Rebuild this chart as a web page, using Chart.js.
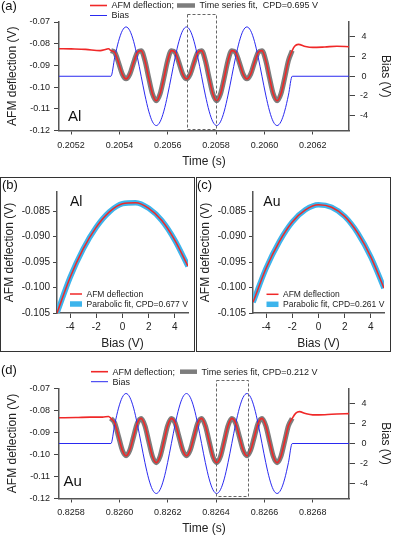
<!DOCTYPE html>
<html>
<head>
<meta charset="utf-8">
<script src="https://cdn.jsdelivr.net/npm/chart.js@4.4.1/dist/chart.umd.min.js"></script>
<style>
  html, body { margin: 0; padding: 0; background: #fff; }
  #page { position: relative; width: 393px; height: 536px; overflow: hidden; }
  canvas, .box { position: absolute; }
  .box { border: 1px solid #333; box-sizing: border-box; }
</style>
</head>
<body>
<div id="page">
  <div class="box" style="left:0;top:177px;width:195px;height:175px"></div>
  <div class="box" style="left:196px;top:177px;width:195px;height:175px"></div>
  <canvas id="chartA" width="393" height="177" style="left:0;top:0"></canvas>
  <canvas id="chartB" width="195" height="175" style="left:0;top:177px"></canvas>
  <canvas id="chartC" width="195" height="175" style="left:196px;top:177px"></canvas>
  <canvas id="chartD" width="393" height="180" style="left:0;top:356px"></canvas>
</div>
<script>
const FONT = "'Liberation Sans', Arial, sans-serif";
Chart.defaults.font.family = FONT;
Chart.defaults.color = '#222';

const RED = '#f02828';
const BLUE = '#2a2af0';
const GRAY = '#7d7d7d';
const LIGHTBLUE = '#3cb4ec';

// tick labels
const timeTicksA = [0.2052, 0.2054, 0.2056, 0.2058, 0.2060, 0.2062];
const timeTicksD = [0.8258, 0.8260, 0.8262, 0.8264, 0.8266, 0.8268];
const deflTicks = [-0.07, -0.08, -0.09, -0.10, -0.11, -0.12];
const biasTicks = [-4, -2, 0, 2, 4];
const parabDeflTicks = [-0.085, -0.090, -0.095, -0.100, -0.105];

// bias during the excitation burst (same burst in (a) and (d))
const biasWave = [
  0, 1.91, 3.54, 4.62, 5, 4.62, 3.54, 1.91, 0, -1.91, -3.54, -4.62, -5, -4.62, -3.54, -1.91,
  0, 1.91, 3.54, 4.62, 5, 4.62, 3.54, 1.91, 0, -1.91, -3.54, -4.62, -5, -4.62, -3.54, -1.91,
  0, 1.91, 3.54, 4.62, 5, 4.62, 3.54, 1.91, 0, -1.91, -3.54, -4.62, -5, -4.62, -3.54, -1.91, 0
];

// (a) Al
const timeRangeA = [0.20515, 0.20635];
const waveTimeA = [
  0.2053650, 0.2053806, 0.2053963, 0.2054119, 0.2054275, 0.2054431, 0.2054588, 0.2054744,
  0.2054900, 0.2055056, 0.2055213, 0.2055369, 0.2055525, 0.2055681, 0.2055838, 0.2055994,
  0.2056150, 0.2056306, 0.2056463, 0.2056619, 0.2056775, 0.2056931, 0.2057088, 0.2057244,
  0.2057400, 0.2057556, 0.2057713, 0.2057869, 0.2058025, 0.2058181, 0.2058338, 0.2058494,
  0.2058650, 0.2058806, 0.2058963, 0.2059119, 0.2059275, 0.2059431, 0.2059588, 0.2059744,
  0.2059900, 0.2060056, 0.2060213, 0.2060369, 0.2060525, 0.2060681, 0.2060838, 0.2060994,
  0.2061150
];
const deflWaveA = [
  -0.0832, -0.0840, -0.0887, -0.0940, -0.0962, -0.0940, -0.0887, -0.0840,
  -0.0832, -0.0878, -0.0958, -0.1032, -0.1063, -0.1032, -0.0958, -0.0878,
  -0.0832, -0.0840, -0.0887, -0.0940, -0.0962, -0.0940, -0.0887, -0.0840,
  -0.0832, -0.0878, -0.0958, -0.1032, -0.1063, -0.1032, -0.0958, -0.0878,
  -0.0832, -0.0840, -0.0887, -0.0940, -0.0962, -0.0940, -0.0887, -0.0840,
  -0.0832, -0.0878, -0.0958, -0.1032, -0.1063, -0.1032, -0.0958, -0.0878,
  -0.0832
];
const preTimeA = [0.20515, 0.20520, 0.20526, 0.20532, 0.205345, 0.205355];
const preDeflA = [-0.0823, -0.0824, -0.0826, -0.0832, -0.0826, -0.0823];
const postTimeA = [0.206125, 0.20614, 0.20617, 0.20620, 0.20625, 0.20630, 0.20635];
const postDeflA = [-0.0812, -0.0803, -0.0813, -0.0817, -0.0815, -0.0812, -0.0814];

// (d) Au
const timeRangeD = [0.82575, 0.82695];
const waveTimeD = [
  0.8259650, 0.8259806, 0.8259963, 0.8260119, 0.8260275, 0.8260431, 0.8260588, 0.8260744,
  0.8260900, 0.8261056, 0.8261213, 0.8261369, 0.8261525, 0.8261681, 0.8261838, 0.8261994,
  0.8262150, 0.8262306, 0.8262463, 0.8262619, 0.8262775, 0.8262931, 0.8263088, 0.8263244,
  0.8263400, 0.8263556, 0.8263713, 0.8263869, 0.8264025, 0.8264181, 0.8264338, 0.8264494,
  0.8264650, 0.8264806, 0.8264963, 0.8265119, 0.8265275, 0.8265431, 0.8265588, 0.8265744,
  0.8265900, 0.8266056, 0.8266213, 0.8266369, 0.8266525, 0.8266681, 0.8266838, 0.8266994,
  0.8267150
];
const deflWaveD = [
  -0.0836, -0.0857, -0.0918, -0.0980, -0.1006, -0.0980, -0.0918, -0.0857,
  -0.0836, -0.0869, -0.0940, -0.1009, -0.1037, -0.1009, -0.0940, -0.0869,
  -0.0836, -0.0857, -0.0918, -0.0980, -0.1006, -0.0980, -0.0918, -0.0857,
  -0.0836, -0.0869, -0.0940, -0.1009, -0.1037, -0.1009, -0.0940, -0.0869,
  -0.0836, -0.0857, -0.0918, -0.0980, -0.1006, -0.0980, -0.0918, -0.0857,
  -0.0836, -0.0869, -0.0940, -0.1009, -0.1037, -0.1009, -0.0940, -0.0869,
  -0.0836
];
const preTimeD = [0.82575, 0.82582, 0.82588, 0.82593, 0.825955];
const preDeflD = [-0.0833, -0.0832, -0.0830, -0.0830, -0.0827];
const postTimeD = [0.82673, 0.826745, 0.82677, 0.82680, 0.82685, 0.82690, 0.82695];
const postDeflD = [-0.0812, -0.0805, -0.0814, -0.0820, -0.0819, -0.0816, -0.0814];

// (b), (c) deflection vs bias
const biasSweep = [-5, -4, -3, -2, -1, 0, 1, 2, 3, 4, 5];
const deflSweepAl = [-0.1050, -0.0980, -0.0924, -0.0881, -0.0851, -0.0835, -0.0833, -0.0844, -0.0868, -0.0907, -0.0958];
const deflSweepAu = [-0.1029, -0.0962, -0.0910, -0.0871, -0.0847, -0.0837, -0.0842, -0.0860, -0.0893, -0.0940, -0.1001];

const pts = (xs, ys) => xs.map((x, i) => ({ x: x, y: ys[i] }));

// draws legend keys, panel letters, sample names and the dashed window
const decorations = {
  id: 'decorations',
  afterDraw(chart, args, opts) {
    const ctx = chart.ctx;
    ctx.save();
    if (opts.window) {
      const xs = chart.scales.x, ys = chart.scales.y;
      const x0 = Math.round(xs.getPixelForValue(opts.window.time[0])) + 0.5;
      const x1 = Math.round(xs.getPixelForValue(opts.window.time[1])) + 0.5;
      const y0 = Math.round(ys.getPixelForValue(opts.window.defl[0])) + 0.5;
      const y1 = Math.round(ys.getPixelForValue(opts.window.defl[1])) + 0.5;
      ctx.setLineDash([3, 2]);
      ctx.lineWidth = 1;
      ctx.strokeStyle = '#666';
      ctx.strokeRect(x0, y0, x1 - x0, y1 - y0);
      ctx.setLineDash([]);
    }
    ctx.textBaseline = 'middle';
    ctx.textAlign = 'left';
    (opts.keys || []).forEach(k => {
      const ds = chart.data.datasets[k.ds];
      ctx.beginPath();
      ctx.strokeStyle = ds.borderColor;
      ctx.lineWidth = k.width || ds.borderWidth;
      ctx.moveTo(k.x, k.y);
      ctx.lineTo(k.x + k.len, k.y);
      ctx.stroke();
      ctx.fillStyle = '#222';
      ctx.font = k.size + 'px ' + FONT;
      ctx.fillText(k.text, k.x + k.len + 4.5, k.y + 0.5);
    });
    (opts.texts || []).forEach(t => {
      ctx.fillStyle = '#111';
      ctx.font = t.size + 'px ' + FONT;
      ctx.fillText(t.text, t.x, t.y);
    });
    ctx.restore();
  }
};

const axisGrid = len => ({ drawOnChartArea: false, drawTicks: true, tickLength: len, color: '#444', lineWidth: 1 });
const axisBorder = { display: true, color: '#555', width: 1.5 };
const fixedTicks = vals => scale => { scale.ticks = vals.map(v => ({ value: v })); };

function timeSeriesChart(id, s) {
  return new Chart(document.getElementById(id), {
    type: 'line',
    data: {
      datasets: [
        { label: 'AFM deflection', data: pts(s.preT, s.preD).concat(pts(s.waveT, s.waveD), pts(s.postT, s.postD)),
          borderColor: RED, borderWidth: 1.6, yAxisID: 'y' },
        { label: 'Bias', data: [{ x: s.range[0], y: 0 }].concat(pts(s.waveT, biasWave), [{ x: s.range[1], y: 0 }]),
          borderColor: BLUE, borderWidth: 1, yAxisID: 'y1' },
        { label: 'Time series fit', data: pts(s.waveT, s.waveD),
          borderColor: GRAY, borderWidth: 5, yAxisID: 'y' }
      ]
    },
    options: {
      responsive: false,
      animation: false,
      devicePixelRatio: 1,
      layout: { padding: { top: s.top, left: 0, right: 0, bottom: 0 } },
      elements: { point: { radius: 0 }, line: { cubicInterpolationMode: 'monotone', fill: false } },
      plugins: {
        legend: { display: false },
        tooltip: { enabled: false },
        decorations: s.deco
      },
      scales: {
        x: {
          type: 'linear', min: s.range[0], max: s.range[1],
          afterBuildTicks: fixedTicks(s.ticks),
          afterFit: sc => { sc.height = s.xh; },
          ticks: { font: { size: 9 }, padding: s.tickPad, maxRotation: 0, autoSkip: false, callback: v => v.toFixed(4) },
          grid: axisGrid(4), border: axisBorder,
          title: { display: true, text: 'Time (s)', font: { size: 12 }, padding: { top: 0, bottom: s.titlePad } }
        },
        y: {
          position: 'left', min: -0.12, max: -0.07,
          afterBuildTicks: fixedTicks(deflTicks),
          afterFit: sc => { sc.width = 59; },
          ticks: { font: { size: 9 }, padding: 4, callback: v => v.toFixed(2) },
          grid: axisGrid(5), border: axisBorder,
          title: { display: true, text: 'AFM deflection (V)', font: { size: 12 }, padding: { top: 5, bottom: 0 } }
        },
        y1: {
          position: 'right', min: -5.5, max: 5.5,
          afterBuildTicks: fixedTicks(biasTicks),
          afterFit: sc => { sc.width = 44; },
          ticks: { font: { size: 9 }, padding: 5, crossAlign: 'center', callback: v => String(v) },
          grid: axisGrid(6), border: axisBorder,
          title: { display: true, text: 'Bias (V)', font: { size: 12 }, padding: { top: 0, bottom: 0 } }
        }
      }
    },
    plugins: [decorations]
  });
}

function sweepChart(id, fit, deco) {
  return new Chart(document.getElementById(id), {
    type: 'line',
    data: {
      datasets: [
        { label: 'AFM deflection', data: pts(biasSweep, fit), borderColor: RED, borderWidth: 1.5 },
        { label: 'Parabolic fit', data: pts(biasSweep, fit), borderColor: LIGHTBLUE, borderWidth: 5.5 }
      ]
    },
    options: {
      responsive: false,
      animation: false,
      devicePixelRatio: 1,
      layout: { padding: { top: 15, left: 0, right: 7, bottom: 0 } },
      elements: { point: { radius: 0 }, line: { cubicInterpolationMode: 'monotone', fill: false } },
      plugins: {
        legend: { display: false },
        tooltip: { enabled: false },
        decorations: deco
      },
      scales: {
        x: {
          type: 'linear', min: -5, max: 5,
          afterBuildTicks: fixedTicks(biasTicks),
          afterFit: sc => { sc.height = 39; },
          ticks: { font: { size: 10 }, padding: 3, maxRotation: 0, autoSkip: false, callback: v => String(v) },
          grid: axisGrid(5), border: axisBorder,
          title: { display: true, text: 'Bias (V)', font: { size: 12 }, padding: { top: 0, bottom: 1.5 } }
        },
        y: {
          position: 'left', min: -0.105, max: -0.0812,
          afterBuildTicks: fixedTicks(parabDeflTicks),
          afterFit: sc => { sc.width = 57; },
          ticks: { font: { size: 10 }, padding: 3, callback: v => v.toFixed(3) },
          grid: axisGrid(4), border: axisBorder,
          title: { display: true, text: 'AFM deflection (V)', font: { size: 12 }, padding: { top: 2, bottom: 0 } }
        }
      }
    },
    plugins: [decorations]
  });
}

timeSeriesChart('chartA', {
  range: timeRangeA, ticks: timeTicksA,
  preT: preTimeA, preD: preDeflA, waveT: waveTimeA, waveD: deflWaveA, postT: postTimeA, postD: postDeflA,
  top: 22, xh: 46.5, tickPad: 6, titlePad: 8,
  deco: {
    window: { time: [0.20568, 0.20580], defl: [-0.0662, -0.1192] },
    keys: [
      { ds: 0, x: 90, y: 5.5, len: 17, size: 9, text: 'AFM deflection;' },
      { ds: 2, x: 177, y: 5.5, len: 18, size: 9, width: 4.5, text: 'Time series fit,  CPD=0.695 V' },
      { ds: 1, x: 90, y: 15.5, len: 17, size: 9, text: 'Bias' }
    ],
    texts: [
      { text: '(a)', x: 1, y: 6.5, size: 13 },
      { text: 'Al', x: 68, y: 116.5, size: 15 }
    ]
  }
});

sweepChart('chartB', deflSweepAl, {
  keys: [
    { ds: 0, x: 70, y: 117, len: 12, size: 8.5, text: 'AFM deflection' },
    { ds: 1, x: 70, y: 127, len: 12, size: 8.5, text: 'Parabolic fit, CPD=0.677 V' }
  ],
  texts: [
    { text: '(b)', x: 2, y: 8.5, size: 13 },
    { text: 'Al', x: 70, y: 24.7, size: 14 }
  ]
});

sweepChart('chartC', deflSweepAu, {
  keys: [
    { ds: 0, x: 70.5, y: 117.3, len: 12, size: 8.5, text: 'AFM deflection' },
    { ds: 1, x: 70.5, y: 127.3, len: 12, size: 8.5, text: 'Parabolic fit, CPD=0.261 V' }
  ],
  texts: [
    { text: '(c)', x: 1, y: 8.5, size: 13 },
    { text: 'Au', x: 67.3, y: 25.3, size: 14 }
  ]
});

timeSeriesChart('chartD', {
  range: timeRangeD, ticks: timeTicksD,
  preT: preTimeD, preD: preDeflD, waveT: waveTimeD, waveD: deflWaveD, postT: postTimeD, postD: postDeflD,
  top: 32.5, xh: 37.5, tickPad: 5, titlePad: 0,
  deco: {
    window: { time: [0.82640, 0.82653], defl: [-0.0663, -0.1189] },
    keys: [
      { ds: 0, x: 91, y: 15.7, len: 17, size: 9, text: 'AFM deflection;' },
      { ds: 2, x: 180, y: 15.7, len: 17, size: 9, width: 4.5, text: 'Time series fit, CPD=0.212 V' },
      { ds: 1, x: 91, y: 25.7, len: 17, size: 9, text: 'Bias' }
    ],
    texts: [
      { text: '(d)', x: 1, y: 14.5, size: 13 },
      { text: 'Au', x: 63.5, y: 125.7, size: 15 }
    ]
  }
});
</script>
</body>
</html>
